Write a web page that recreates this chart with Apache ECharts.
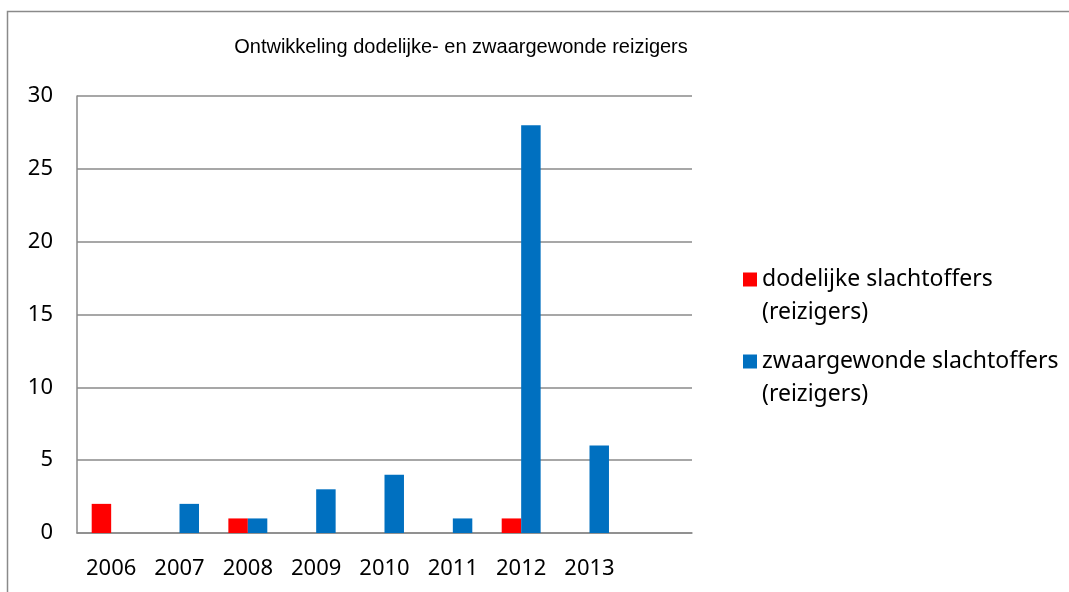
<!DOCTYPE html>
<html>
<head>
<meta charset="utf-8">
<script src="https://cdn.jsdelivr.net/npm/echarts@6/dist/echarts.min.js"></script>
<style>
html,body{margin:0;padding:0;background:#fff;}
#chart{width:1069px;height:592px;}
</style>
</head>
<body>
<div id="chart"></div>
<script>
const titleText = 'Ontwikkeling dodelijke- en zwaargewonde reizigers';
const categories = ['2006','2007','2008','2009','2010','2011','2012','2013',''];
const seriesNames = ['dodelijke slachtoffers\n(reizigers)', 'zwaargewonde slachtoffers\n(reizigers)'];
const dodelijke = [2, null, 1, null, null, null, 1, null, null];
const zwaargewonde = [null, 2, 1, 3, 4, 1, 28, 6, null];
const yTicks = [0, 5, 10, 15, 20, 25, 30];

const chart = echarts.init(document.getElementById('chart'));
const font = 'Noto Sans';
chart.setOption({
  animation: false,
  backgroundColor: '#ffffff',
  title: {
    text: titleText,
    left: 456, top: 32, textAlign: 'center',
    textStyle: {fontFamily: 'Liberation Sans', fontSize: 20, fontWeight: 'normal', color: '#000'}
  },
  graphic: [{
    type: 'rect', silent: true,
    shape: {x: 7.5, y: 11.5, width: 3000, height: 3000},
    style: {fill: 'none', stroke: '#8a8a8a', lineWidth: 1.5}
  }],
  legend: {
    orient: 'vertical',
    left: 738, top: 225,
    itemWidth: 14, itemHeight: 14, itemGap: -17,
    icon: 'rect',
    formatter: function (name) { return '\n' + name; },
    textStyle: {fontFamily: font, fontSize: 23, color: '#000', lineHeight: 33},
    data: seriesNames
  },
  grid: {left: 77, top: 96, right: 377, bottom: 59, containLabel: false},
  xAxis: {
    type: 'category', data: categories,
    axisLine: {lineStyle: {color: '#8a8a8a', width: 1.5}},
    axisTick: {show: false},
    axisLabel: {fontFamily: font, fontSize: 22, color: '#000', margin: 25, interval: 0}
  },
  yAxis: {
    type: 'value', min: yTicks[0], max: yTicks[yTicks.length - 1], interval: 5,
    axisLine: {show: true, lineStyle: {color: '#8a8a8a', width: 1.5}},
    axisTick: {show: false},
    splitLine: {lineStyle: {color: '#8a8a8a', width: 1.5}},
    axisLabel: {fontFamily: font, fontSize: 22, color: '#000', margin: 24}
  },
  series: [
    {name: seriesNames[0], type: 'bar', data: dodelijke, itemStyle: {color: '#ff0000'}, barGap: '0%', barCategoryGap: '43%'},
    {name: seriesNames[1], type: 'bar', data: zwaargewonde, itemStyle: {color: '#0070c0'}, barGap: '0%', barCategoryGap: '43%'}
  ]
});
</script>
</body>
</html>
